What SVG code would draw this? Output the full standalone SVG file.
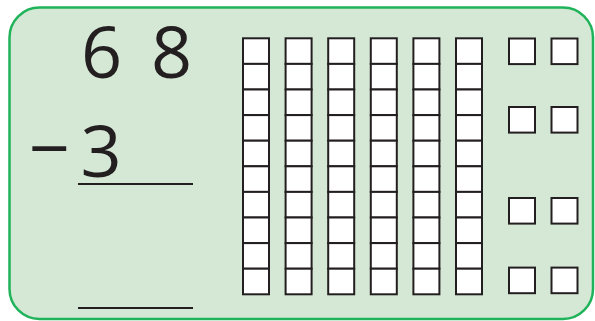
<svg xmlns="http://www.w3.org/2000/svg" width="595" height="321" viewBox="0 0 595 321">
<defs>
<style>
.panel{fill:#d5e8d5;stroke:#1fb35a;stroke-width:2.5}
.num{font-family:"Open Sans","Noto Sans",sans-serif;font-size:72px;fill:#231f20;text-anchor:middle}
.rule{stroke:#231f20;stroke-width:2.2}
.cell{fill:#ffffff;stroke:#231f20;stroke-width:2}
</style>
<g id="rod">
<rect class="cell" x="0" y="0" width="26" height="25.6"/>
<rect class="cell" x="0" y="25.6" width="26" height="25.6"/>
<rect class="cell" x="0" y="51.2" width="26" height="25.6"/>
<rect class="cell" x="0" y="76.8" width="26" height="25.6"/>
<rect class="cell" x="0" y="102.4" width="26" height="25.6"/>
<rect class="cell" x="0" y="128" width="26" height="25.6"/>
<rect class="cell" x="0" y="153.6" width="26" height="25.6"/>
<rect class="cell" x="0" y="179.2" width="26" height="25.6"/>
<rect class="cell" x="0" y="204.8" width="26" height="25.6"/>
<rect class="cell" x="0" y="230.4" width="26" height="25.6"/>
</g>
</defs>
<rect width="595" height="321" fill="#ffffff"/>
<g id="panel">
<rect class="panel" x="9.5" y="7.5" width="583.5" height="311.5" rx="30" ry="30"/>
</g>
<g id="problem">
<text class="num" x="101.5" y="77.5">6</text>
<text class="num" x="171.5" y="77.5">8</text>
<text class="num" x="49" y="174">−</text>
<text class="num" x="101" y="176.5">3</text>
<line class="rule" x1="78" y1="184" x2="193" y2="184"/>
<line class="rule" x1="78" y1="308" x2="193" y2="308"/>
</g>
<g id="tens">
<use href="#rod" x="243" y="38.3"/>
<use href="#rod" x="285.6" y="38.3"/>
<use href="#rod" x="328.2" y="38.3"/>
<use href="#rod" x="370.8" y="38.3"/>
<use href="#rod" x="413.4" y="38.3"/>
<use href="#rod" x="456" y="38.3"/>
</g>
<g id="ones">
<rect class="cell" x="509" y="38.5" width="26" height="25.6"/>
<rect class="cell" x="551.5" y="38.5" width="26" height="25.6"/>
<rect class="cell" x="509" y="107" width="26" height="25.6"/>
<rect class="cell" x="551.5" y="107" width="26" height="25.6"/>
<rect class="cell" x="509" y="198" width="26" height="25.6"/>
<rect class="cell" x="551.5" y="198" width="26" height="25.6"/>
<rect class="cell" x="509" y="267.6" width="26" height="25.6"/>
<rect class="cell" x="551.5" y="267.6" width="26" height="25.6"/>
</g>
</svg>
